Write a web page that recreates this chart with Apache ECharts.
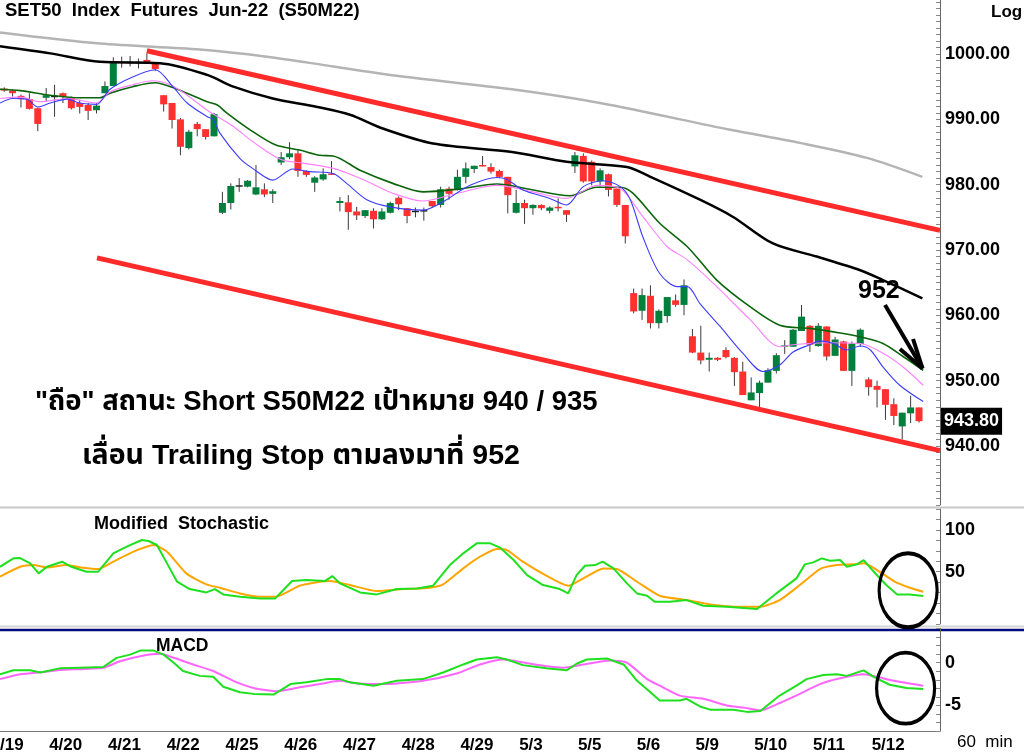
<!DOCTYPE html>
<html>
<head>
<meta charset="utf-8">
<title>S50M22 60 min</title>
<script src="https://cdn.jsdelivr.net/npm/echarts/dist/echarts.min.js"></script>
<style>
  html, body { margin: 0; padding: 0; background: #fff; }
  #chart { width: 1024px; height: 754px; }
</style>
</head>
<body>
<div id="chart"></div>
<script>
// ---------- ข้อมูล (อ่านจากภาพ) ----------
const days = ['4/19', '4/20', '4/21', '4/22', '4/25', '4/26', '4/27', '4/28',
              '4/29', '5/3', '5/5', '5/6', '5/9', '5/10', '5/11', '5/12'];
const BARS_PER_DAY = 7;
const HIDDEN_BARS = 2;   // 2 แท่งแรกของ 4/19 อยู่นอกขอบซ้าย
const X_MIN = -0.5, X_MAX = 111.5;

// [open, close, low, high] ตั้งแต่แท่งแรกที่เห็น
const candles = [
  // 4/19
  [994.7, 994.4, 994.2, 994.9], [994.4, 994.0, 993.5, 994.6], [993.6, 993.1, 991.8, 993.8],
  [993.1, 991.6, 991.5, 994.0], [991.7, 989.3, 988.2, 991.8],
  // 4/20
  [993.3, 993.7, 992.7, 994.8], [993.5, 993.5, 990.4, 995.3], [994.0, 993.5, 992.5, 994.1],
  [993.3, 991.7, 991.5, 993.5], [992.5, 991.9, 990.9, 993.0], [992.2, 991.3, 989.9, 992.5],
  [991.4, 992.1, 990.9, 992.5],
  // 4/21
  [994.0, 995.1, 994.0, 995.8], [995.1, 998.8, 995.1, 999.5], [998.8, 998.6, 997.9, 999.6],
  [998.7, 998.7, 998.1, 999.7], [998.7, 998.7, 997.8, 999.3], [999.1, 998.7, 998.5, 1000.1],
  [998.7, 997.7, 997.4, 998.7],
  // 4/22
  [993.7, 992.3, 991.2, 993.7], [992.5, 989.9, 988.6, 992.5], [990.0, 985.8, 984.5, 990.2],
  [985.6, 988.1, 985.4, 988.4], [989.3, 988.5, 987.4, 989.6], [988.5, 987.3, 986.9, 988.5],
  [987.4, 990.8, 987.4, 991.0],
  // 4/25
  [975.7, 977.2, 975.5, 978.9], [977.2, 979.8, 976.2, 980.2], [979.8, 979.8, 978.9, 981.0],
  [979.7, 980.6, 979.6, 980.7], [978.5, 979.6, 978.4, 983.0], [979.3, 978.5, 978.1, 980.2],
  [978.6, 979.0, 977.2, 979.3],
  // 4/26
  [983.4, 984.2, 983.0, 985.0], [984.2, 984.8, 983.9, 986.5], [984.8, 982.1, 981.2, 985.3],
  [982.1, 981.5, 981.2, 982.2], [980.3, 981.1, 978.9, 981.3], [980.8, 981.6, 980.6, 982.5],
  [981.7, 981.5, 981.5, 983.6],
  // 4/27
  [977.2, 977.5, 975.9, 978.1], [977.3, 975.8, 973.1, 978.4], [975.9, 975.3, 974.6, 976.6],
  [975.2, 976.1, 974.9, 976.1], [976.0, 974.7, 973.3, 976.4], [974.7, 975.9, 974.6, 976.4],
  [975.7, 977.2, 975.6, 977.4],
  // 4/28
  [978.0, 977.0, 976.1, 978.2], [976.4, 975.2, 974.1, 976.4], [975.9, 975.9, 975.0, 976.5],
  [976.0, 976.0, 974.5, 976.5], [977.5, 976.7, 976.5, 977.5], [976.9, 979.3, 976.5, 979.7],
  [979.4, 978.6, 977.7, 979.7],
  // 4/29
  [979.2, 981.2, 979.1, 982.3], [981.2, 982.5, 980.2, 983.4], [982.4, 982.9, 981.8, 982.9],
  [982.9, 982.8, 982.8, 984.4], [982.7, 982.0, 981.7, 983.3], [982.1, 981.2, 981.0, 982.3],
  [981.2, 978.4, 975.6, 981.2],
  // 5/3
  [975.7, 977.2, 975.6, 979.2], [977.2, 976.4, 974.0, 977.7], [976.4, 976.9, 975.4, 977.0],
  [976.9, 976.4, 976.1, 977.0], [976.0, 976.5, 975.6, 976.7], [976.5, 976.4, 975.9, 977.9],
  [976.1, 975.4, 974.3, 976.1],
  // 5/5
  [982.8, 984.5, 981.8, 985.0], [984.4, 980.5, 980.3, 984.8], [983.5, 980.5, 979.9, 983.7],
  [980.5, 982.2, 979.7, 982.5], [981.6, 979.2, 978.2, 981.7], [979.4, 976.9, 976.6, 979.4],
  [976.9, 972.1, 971.0, 976.9],
  // 5/6
  [963.4, 960.6, 960.3, 964.1], [960.7, 963.1, 959.3, 964.1], [963.0, 958.8, 958.0, 964.6],
  [958.8, 960.7, 958.0, 960.9], [959.9, 962.8, 958.9, 962.8], [962.3, 961.6, 961.3, 963.2],
  [961.6, 964.6, 960.0, 965.5],
  // 5/9
  [956.8, 954.3, 954.2, 957.9], [954.3, 953.1, 952.5, 958.4], [953.2, 953.5, 951.4, 954.3],
  [953.5, 953.2, 953.0, 953.6], [954.7, 953.6, 953.4, 955.1], [953.5, 951.3, 949.2, 953.6],
  [951.4, 947.8, 947.8, 952.9],
  // 5/10
  [947.0, 948.2, 947.0, 950.5], [948.1, 949.7, 945.8, 950.0], [949.7, 951.6, 949.7, 951.9],
  [951.5, 953.9, 951.1, 954.2], [955.2, 955.4, 954.1, 956.2], [955.2, 957.8, 955.2, 957.9],
  [957.6, 959.8, 957.6, 961.6],
  // 5/11
  [958.4, 955.5, 954.4, 958.5], [955.3, 958.4, 955.2, 958.8], [958.3, 953.7, 953.1, 958.3],
  [953.8, 956.3, 953.8, 956.7], [956.0, 951.5, 951.5, 956.1], [951.5, 955.7, 949.2, 956.0],
  [955.6, 957.8, 955.2, 958.0],
  // 5/12
  [950.2, 949.0, 947.7, 950.5], [949.2, 948.6, 945.9, 950.0], [948.7, 946.3, 944.0, 948.7],
  [946.4, 944.6, 943.2, 947.3], [943.0, 945.1, 941.0, 945.1], [945.0, 945.9, 943.5, 947.7],
  [945.9, 943.8, 943.6, 945.9]
];
const lastPrice = 943.80;
const priceTicks = [940, 950, 960, 970, 980, 990, 1000];

// เส้นค่าเฉลี่ย [แท่งที่, ราคา]
const maGray = [[-0.5, 1003.3], [11.4, 1001.6], [23.3, 1000.7], [31.3, 999.6], [39.2, 998.1],
  [47.2, 996.6], [60.5, 994.6], [71, 992.5], [86.5, 988.4], [94.8, 986.4], [102.8, 984.1], [109.4, 981.2]];
const maBlack = [[-0.5, 1001.2], [5.5, 1000.1], [11.4, 998.8], [18.6, 998.6], [24.2, 996.8],
  [27.3, 995.0], [32, 993.2], [37.3, 991.9], [41.2, 990.7], [45.1, 988.6], [51.1, 986.3],
  [60.5, 985.0], [67, 983.5], [74.2, 982.7], [77, 981.2], [82.9, 977.7], [86.8, 975.1],
  [91.6, 971.0], [96.8, 969.0], [102, 966.9], [104.7, 965.4], [109.4, 962.6]];
const maGreen = [[-0.5, 994.6], [1.9, 994.4], [5.5, 993.7], [9, 993.3], [11.4, 993.3], [12.6, 994.0],
  [15.3, 995.0], [18, 995.6], [19.8, 995.0], [21.8, 994.0], [24.2, 992.7], [25.4, 992.2],
  [26.5, 991.0], [29.3, 988.4], [32.3, 986.1], [35.2, 985.3], [37.6, 984.5], [39.2, 984.4],
  [42.4, 982.2], [46.3, 980.2], [49.9, 978.9], [54, 979.3], [58.7, 980.1], [62.6, 979.3],
  [67.4, 978.3], [70.6, 979.6], [73.4, 979.6], [74.9, 978.7], [78.1, 974.1], [81.4, 970.5],
  [84.9, 965.4], [88.9, 961.3], [92.4, 958.5], [96, 958.0], [99.6, 957.3], [102, 956.7],
  [104.7, 955.7], [107.1, 953.7], [109.5, 951.6]];
const maPink = [[-0.5, 993.2], [1.9, 993.4], [4.3, 992.7], [7.5, 993.2], [11, 992.5], [12.6, 994.2],
  [15.3, 995.3], [17.7, 995.9], [19.8, 995.3], [21.8, 993.7], [24.2, 991.4], [27.3, 988.9],
  [29.6, 986.6], [32.9, 983.9], [35.6, 983.3], [39.2, 982.5], [42.4, 981.0], [46.3, 978.7],
  [49.9, 977.5], [54, 978.7], [58.7, 979.9], [63, 978.9], [67, 977.9], [70.6, 979.9],
  [73.4, 979.4], [76.1, 975.1], [79, 970.5], [81.4, 968.5], [84.9, 964.4], [88.9, 959.3],
  [92.4, 955.2], [94, 955.5], [98, 955.8], [102, 955.7], [104.7, 954.2], [107.1, 952.1], [109.5, 949.3]];
const maBlue = [[-0.5, 992.5], [1, 993.2], [2.7, 993.1], [4, 991.9], [5.5, 992.5], [7.5, 993.1],
  [9, 992.5], [11, 992.3], [12.6, 994.6], [15.3, 996.5], [18, 997.6], [20.1, 995.0],
  [21.8, 992.5], [24.2, 990.4], [24.9, 990.0], [25.7, 987.9], [28.1, 984.0], [29.6, 982.5],
  [32, 980.7], [34.4, 982.4], [36.4, 982.0], [39.2, 981.7], [40.8, 980.2], [43.2, 977.7],
  [46, 976.6], [49.9, 976.1], [52.3, 977.4], [55.5, 979.9], [58.7, 981.1], [59.9, 980.8],
  [61.8, 979.2], [65, 977.9], [67, 976.9], [69, 979.7], [71.3, 980.6], [73.4, 979.7],
  [74.6, 977.7], [76.1, 972.0], [78.1, 966.4], [80.2, 964.4], [81.4, 964.4], [82.9, 961.8],
  [85.3, 958.3], [88, 954.2], [90.4, 951.4], [92.4, 952.4], [94, 954.4], [96, 955.5],
  [97.2, 956.1], [98.8, 955.7], [100.4, 954.7], [102, 955.3], [103.2, 954.7], [104.7, 952.1],
  [106.7, 949.3], [109.5, 946.8]];

// เส้นแนวโน้ม / ลูกศร [แท่งที่, ราคา]
const trendUpper = [[17.0, 1000.5], [111.5, 973.0]];
const trendLower = [[11.06, 968.8], [111.5, 939.3]];
const arrowTip = [109.42, 951.86];
const arrowTails = [[104.95, 961.58], [106.73, 954.85], [108.29, 956.38]];

// Modified Stochastic
const stochK = [[-0.5, 55.9], [1.1, 66.0], [1.9, 66.4], [3.1, 60.0], [4.1, 48.0], [5.1, 55.9],
  [6.9, 62.0], [8.0, 55.9], [9.8, 50.0], [11.2, 50.0], [13, 72.0], [14.6, 80.0], [16.4, 88.0],
  [17.2, 86.8], [18.2, 82.0], [19.4, 60.0], [20.6, 38.0], [22.1, 29.2], [24.1, 25.2],
  [25.1, 29.2], [26.1, 22.8], [28.1, 20.0], [30.5, 18.0], [32.3, 18.0], [34.3, 38.8],
  [36.0, 40.0], [38.2, 38.8], [39.1, 44.8], [40, 36.0], [42.4, 25.2], [44.4, 22.8],
  [46.8, 29.2], [49.2, 30.0], [51.1, 33.2], [53.1, 58.0], [54.7, 72.0], [56.3, 84.0],
  [57.9, 84.0], [59.1, 78.8], [60.7, 64.0], [62.3, 46.0], [64.2, 34.0], [66.2, 29.2],
  [67.2, 24.0], [68.2, 46.0], [69.2, 57.2], [70.4, 58.0], [71.3, 62.0], [72.6, 54.0],
  [74.2, 36.0], [75.4, 24.0], [76.6, 21.2], [77.5, 14.0], [79.3, 14.0], [81.3, 16.0],
  [83.3, 9.2], [86.1, 8.0], [89.7, 5.2], [92.0, 24.0], [94.4, 42.0], [95.4, 58.8],
  [96.4, 61.2], [97.4, 66.0], [98.4, 63.2], [99.6, 64.0], [100.4, 55.9], [101.6, 58.8],
  [102.4, 64.0], [103.6, 50.0], [105.1, 34.0], [106.4, 22.8], [107.9, 22.8], [109.5, 20.8]];
const stochD = [[-0.5, 44.0], [1.9, 55.9], [3.5, 58.0], [5.1, 55.2], [7.4, 58.0], [9.4, 54.8],
  [11.2, 53.2], [13, 62.0], [15.4, 74.0], [17.8, 82.0], [19.4, 74.0], [21.7, 48.0],
  [24.1, 34.8], [25.7, 30.7], [28.1, 24.0], [30.5, 20.0], [32.3, 20.0], [35.2, 33.2],
  [37.6, 38.0], [38.8, 38.8], [41.2, 34.0], [44.4, 26.8], [47.6, 29.2], [50.7, 30.8],
  [52.3, 34.8], [54.7, 54.0], [56.7, 68.0], [58.7, 77.2], [59.9, 76.0], [61.8, 62.0],
  [64.6, 45.2], [67.2, 33.2], [69, 42.0], [71.4, 54.0], [73, 53.2], [75.4, 38.0],
  [78.1, 21.2], [81.3, 16.0], [84.1, 10.8], [87.7, 8.0], [90.1, 8.0], [92.4, 16.0],
  [94.8, 34.0], [97.2, 53.2], [99.2, 58.0], [101.2, 58.8], [102.4, 60.0], [104, 52.0],
  [106, 38.8], [107.9, 30.8], [109.5, 26.0]];

// MACD
const macdLine = [[-0.5, -1.35], [1.1, -0.89], [3.1, -0.89], [4.3, -1.15], [6.6, -0.66],
  [9.0, -0.58], [11.8, -0.5], [13.4, 0.57], [15, 0.95], [16.2, 1.42], [17.8, 1.42], [19, 0.95],
  [20.2, 0], [21.3, -0.96], [23.3, -1.54], [24.9, -1.65], [26.1, -2.81], [28.1, -3.46],
  [29.7, -3.65], [32.1, -3.73], [34.1, -2.5], [36, -2.3], [38.4, -1.92], [40, -1.92],
  [41.2, -2.3], [44, -2.69], [46.8, -2.12], [49.9, -1.92], [52.3, -1.15], [54.7, -0.2],
  [56.3, 0.38], [58.7, 0.65], [59.9, 0.38], [61.8, -0.28], [64.6, -0.66], [67, -0.89],
  [68.2, -0.12], [69.4, 0.38], [71.8, 0.5], [73.8, -0.2], [75.4, -2.12], [77, -3.46],
  [78.1, -4.42], [80.5, -4.42], [81.3, -4.23], [82.9, -5.12], [84.1, -5.5], [86.9, -5.5],
  [88.5, -5.76], [90.1, -5.65], [92.4, -3.85], [94.4, -2.69], [95.6, -1.92], [97.6, -1.43],
  [99.2, -1.35], [100.4, -1.54], [102.4, -0.89], [103.6, -1.65], [105.5, -2.58],
  [107.5, -2.96], [109.5, -3.07]];
const macdSignal = [[-0.5, -1.92], [1.9, -1.35], [4.7, -1.08], [6.6, -0.85], [11.8, -0.58],
  [13.8, 0.18], [16.2, 0.76], [18.6, 1.04], [20.2, 0.58], [22.5, -0.2], [24.9, -0.97],
  [27.3, -2.12], [29.7, -2.96], [32.5, -3.34], [35.2, -2.88], [37.6, -2.5], [40, -2.12],
  [42, -2.42], [45.6, -2.5], [49.9, -2.12], [53.9, -1.27], [56.7, -0.2], [59.5, 0.38],
  [62.7, -0.12], [66.6, -0.58], [69, -0.2], [72.2, 0.26], [74.2, 0], [76.6, -1.92],
  [78.1, -2.69], [80.5, -3.85], [83.3, -4.23], [86.1, -5.0], [88.1, -5.26], [90.1, -5.58],
  [92.4, -4.72], [94.8, -3.65], [97.2, -2.5], [99.6, -1.81], [102.4, -1.35], [104, -1.65],
  [106, -2.12], [109.5, -2.69]];

// วงรีที่วาดไว้ [แท่งที่, ค่า]
const stochCircle = [107.7, 27.7];
const macdCircle = [107.4, -2.98];

// ---------- สไตล์ ----------
const FONT = '"Liberation Sans", Arial, "Noto Sans Thai", "Noto Sans", sans-serif';
const UP = '#00803c', DOWN = '#ff3030';
const GL = 0, GR = 84;
const ELLIPSE = 'path://M0,50 A50,50 0 1,1 100,50 A50,50 0 1,1 0,50 Z';

// หมวดแกน X: 5 แท่งที่เห็นของ 4/19 + วันต่อๆ ไป + 2 ช่องว่าง
const cats = [];
days.forEach(d => { for (let h = 0; h < BARS_PER_DAY; h++) cats.push(d + ' ' + h); });
cats.splice(0, HIDDEN_BARS);
cats.push('x1', 'x2');
const nBars = days.length * BARS_PER_DAY - HIDDEN_BARS;
const dayStart = idx => (idx + HIDDEN_BARS) % BARS_PER_DAY === 0 && idx < nBars;

const range = (a, b) => { const r = []; for (let v = a; v <= b; v++) r.push(v); return r; };

function renderCandle(params, api) {
  const i = api.value(0), o = api.value(1), c = api.value(2), lo = api.value(3), hi = api.value(4);
  const pHi = api.coord([i, hi]), pLo = api.coord([i, lo]);
  const yO = api.coord([i, o])[1], yC = api.coord([i, c])[1];
  const x = pHi[0], w = 7;
  const top = Math.min(yO, yC), h = Math.abs(yO - yC);
  const kids = [{ type: 'line', shape: { x1: x, y1: pHi[1], x2: x, y2: pLo[1] },
                  style: { stroke: '#3a3a3a', lineWidth: 1 } }];
  if (h < 1.2) {
    kids.push({ type: 'line', shape: { x1: x - w / 2, y1: top, x2: x + w / 2, y2: top },
                style: { stroke: c > o ? UP : (c < o ? DOWN : '#222'), lineWidth: 1.5 } });
  } else {
    kids.push({ type: 'rect', shape: { x: x - w / 2, y: top, width: w, height: h },
                style: { fill: c >= o ? UP : DOWN } });
  }
  return { type: 'group', children: kids };
}

function lineSeries(data, color, width, idx, smooth, extra) {
  return Object.assign({
    type: 'line', xAxisIndex: idx, yAxisIndex: idx, data: data,
    showSymbol: false, smooth: smooth, lineStyle: { color: color, width: width },
    silent: true
  }, extra || {});
}

const valueX = g => ({ type: 'value', gridIndex: g, min: X_MIN, max: X_MAX, show: false,
                       position: g === 2 ? 'top' : 'bottom' });
const yBase = {
  type: 'value', position: 'right',
  axisLine: { show: true, onZero: false, lineStyle: { color: '#666', width: 1 } },
  axisTick: { show: true, inside: true, length: 4, lineStyle: { color: '#888' } },
  splitLine: { show: false },
  axisLabel: { color: '#000', fontWeight: 'bold', fontSize: 18, fontFamily: FONT, margin: 5 }
};

const option = {
  animation: false,
  backgroundColor: '#fff',
  grid: [
    { left: GL, right: GR, top: 0, height: 505 },
    { left: GL, right: GR, top: 509.15, height: 114.7 },
    { left: GL, right: GR, top: 628.6, height: 104.2 }
  ],
  xAxis: [
    valueX(0), valueX(1), valueX(2),
    {
      type: 'category', gridIndex: 2, data: cats, position: 'bottom', boundaryGap: true,
      axisLine: { onZero: false, lineStyle: { color: '#777' } },
      axisTick: { alignWithLabel: true, interval: dayStart, length: 20, lineStyle: { color: '#555' } },
      axisLabel: { interval: dayStart, formatter: v => v.split(' ')[0], align: 'left',
                   padding: [0, 0, 0, 3], margin: 6, color: '#000', fontWeight: 'bold',
                   fontSize: 17, fontFamily: FONT },
      splitLine: { show: false }
    }
  ],
  yAxis: [
    Object.assign({}, yBase, { gridIndex: 0, min: 930.97, max: 1008.27,
      axisTick: Object.assign({}, yBase.axisTick, { customValues: range(931, 1008) }),
      axisLabel: Object.assign({}, yBase.axisLabel,
        { customValues: priceTicks, formatter: v => v.toFixed(2) }) }),
    Object.assign({}, yBase, { gridIndex: 1, min: -12.5, max: 125, interval: 12.5,
      axisLabel: Object.assign({}, yBase.axisLabel,
        { formatter: v => (v === 50 || v === 100) ? String(v) : '' }) }),
    Object.assign({}, yBase, { gridIndex: 2, min: -8, max: 4, interval: 1,
      axisLabel: Object.assign({}, yBase.axisLabel,
        { formatter: v => (v === 0 || v === -5) ? String(v) : '' }) })
  ],
  series: [
    {
      type: 'custom', xAxisIndex: 0, yAxisIndex: 0, renderItem: renderCandle, clip: true,
      data: candles.map((d, i) => [i, d[0], d[1], d[2], d[3]]),
      encode: { x: 0, y: [1, 2, 3, 4] }, silent: true
    },
    lineSeries(maGray, '#b4b4b4', 2.5, 0, 0.3),
    lineSeries(maBlack, '#000', 2.5, 0, 0.3, {
      markLine: {
        silent: true, symbol: ['none', 'none'], label: { show: false },
        lineStyle: { color: '#000', width: 4, type: 'solid' },
        data: arrowTails.map(t => [{ coord: t }, { coord: arrowTip }])
      }
    }),
    lineSeries(maGreen, '#0b650b', 1.6, 0, 0.3),
    lineSeries(maPink, '#ff80ff', 1.1, 0, 0.3),
    lineSeries(maBlue, '#3c3cff', 1.1, 0, 0.3, {
      markLine: {
        silent: true, symbol: ['none', 'none'],
        lineStyle: { color: 'transparent', width: 0 },
        data: [{ yAxis: lastPrice }],
        label: { show: true, position: 'end', distance: 1, formatter: lastPrice.toFixed(2),
                 backgroundColor: '#000', color: '#fff', fontWeight: 'bold', fontSize: 18,
                 fontFamily: FONT, padding: [5, 3, 4, 3] }
      }
    }),
    lineSeries(trendUpper, '#ff2a2a', 5, 0, false),
    lineSeries(trendLower, '#ff2a2a', 5, 0, false),

    lineSeries(stochD, '#ffa500', 2, 1, 0.2),
    lineSeries(stochK, '#1fe01f', 2, 1, false, {
      markPoint: {
        silent: true, symbol: ELLIPSE, symbolSize: [58, 74], label: { show: false },
        itemStyle: { color: 'rgba(0,0,0,0)', borderColor: '#000', borderWidth: 3.5 },
        data: [{ coord: stochCircle }]
      }
    }),

    lineSeries(macdSignal, '#ff66ff', 2, 2, 0.2),
    lineSeries(macdLine, '#1fe01f', 2, 2, false, {
      markPoint: {
        silent: true, symbol: ELLIPSE, symbolSize: [58, 71], label: { show: false },
        itemStyle: { color: 'rgba(0,0,0,0)', borderColor: '#000', borderWidth: 3.5 },
        data: [{ coord: macdCircle }]
      }
    })
  ],
  graphic: [
    { type: 'line', shape: { x1: 0, y1: 507.5, x2: 1024, y2: 507.5 }, style: { stroke: '#c8c8c8', lineWidth: 2 } },
    { type: 'line', shape: { x1: 0, y1: 626.5, x2: 1024, y2: 626.5 }, style: { stroke: '#d4d4d4', lineWidth: 2 } },
    { type: 'line', shape: { x1: 0, y1: 630, x2: 1024, y2: 630 }, style: { stroke: '#000c7a', lineWidth: 2.5 } },
    // ป้ายวันแรก 4/19 ถูกตัดที่ขอบซ้าย
    { type: 'text', x: -9.5, y: 745, style: { text: days[0], font: 'bold 17px ' + FONT, fill: '#000', verticalAlign: 'middle' } },
    { type: 'text', x: 5, y: 11, style: { text: 'SET50  Index  Futures  Jun-22  (S50M22)',
      font: 'bold 18.5px ' + FONT, fill: '#000', verticalAlign: 'middle' } },
    { type: 'text', x: 991, y: 12, style: { text: 'Log', font: 'bold 17px ' + FONT, fill: '#000', verticalAlign: 'middle' } },
    { type: 'text', x: 35, y: 402, style: { text: '"ถือ" สถานะ Short S50M22 เป้าหมาย 940 / 935',
      font: 'bold 27.5px ' + FONT, fill: '#000', verticalAlign: 'middle' } },
    { type: 'text', x: 82, y: 456, style: { text: 'เลื่อน Trailing Stop ตามลงมาที่ 952',
      font: 'bold 28.5px ' + FONT, fill: '#000', verticalAlign: 'middle' } },
    { type: 'text', x: 858, y: 291, style: { text: '952', font: 'bold 25px ' + FONT, fill: '#000', verticalAlign: 'middle' } },
    { type: 'text', x: 94, y: 524, style: { text: 'Modified  Stochastic', font: 'bold 18px ' + FONT, fill: '#000', verticalAlign: 'middle' } },
    { type: 'text', x: 156, y: 646, style: { text: 'MACD', font: 'bold 17.5px ' + FONT, fill: '#000', verticalAlign: 'middle' } },
    { type: 'text', x: 957, y: 742, style: { text: '60  min', font: '17px ' + FONT, fill: '#000', verticalAlign: 'middle' } }
  ]
};

const chart = echarts.init(document.getElementById('chart'));
chart.setOption(option);
</script>
</body>
</html>
